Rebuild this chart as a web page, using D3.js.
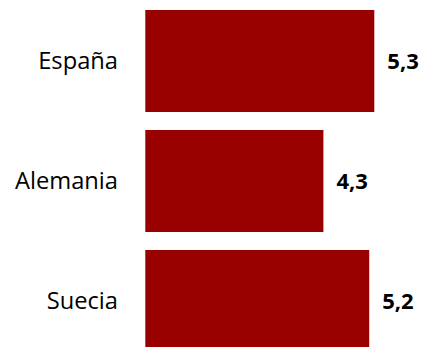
<!DOCTYPE html>
<html>
<head>
<meta charset="utf-8">
<script src="https://cdn.jsdelivr.net/npm/d3@7"></script>
<style>
  html, body { margin: 0; padding: 0; background: #fff; overflow: hidden; }
  svg { display: block; }
</style>
</head>
<body>
<script>
// Country names and their values
const categories = ["España", "Alemania", "Suecia"];
const values = [5.3, 4.3, 5.2];
const valueLabels = ["5,3", "4,3", "5,2"];

const width = 425, height = 347;

const svg = d3.select("body").append("svg")
  .attr("width", width)
  .attr("height", height);

const x = d3.scaleLinear()
  .domain([0.8, 6.0])
  .range([145.3, 145.3 + 5.2 * 50.89]);

const y = d3.scaleBand()
  .domain(categories)
  .range([1, 361])
  .paddingInner(0.15)
  .paddingOuter(0.075);

const rows = svg.selectAll("g.row")
  .data(categories.map((c, i) => ({ c, v: values[i], label: valueLabels[i] })))
  .join("g")
  .attr("class", "row");

rows.append("rect")
  .attr("x", x(0.8))
  .attr("y", d => y(d.c))
  .attr("width", d => x(d.v) - x(0.8))
  .attr("height", y.bandwidth())
  .attr("fill", "#990000");

// Category names to the left of the bars
rows.append("text")
  .attr("x", 118)
  .attr("y", d => y(d.c) + y.bandwidth() / 2)
  .attr("dy", "0.35em")
  .attr("text-anchor", "end")
  .attr("font-family", "'Open Sans', sans-serif")
  .attr("font-size", 23.7)
  .attr("fill", "#000")
  .text(d => d.c);

// Value labels after each bar end
rows.append("text")
  .attr("x", d => x(d.v) + 13)
  .attr("y", d => y(d.c) + y.bandwidth() / 2)
  .attr("dy", "0.35em")
  .attr("font-family", "'Open Sans', sans-serif")
  .attr("font-weight", "bold")
  .attr("font-size", 22)
  .attr("fill", "#000")
  .text(d => d.label);
</script>
</body>
</html>
